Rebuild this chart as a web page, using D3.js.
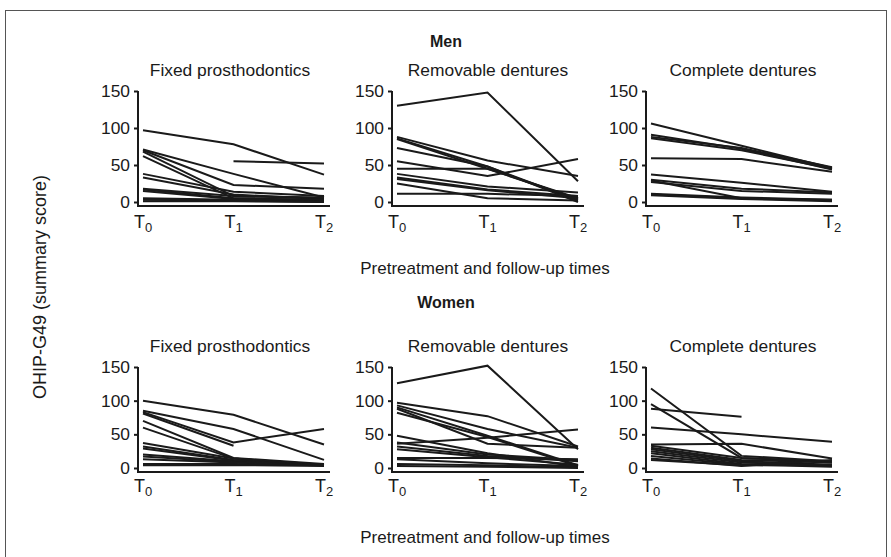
<!DOCTYPE html>
<html>
<head>
<meta charset="utf-8">
<script src="https://cdn.jsdelivr.net/npm/d3@7"></script>
<style>
  body { margin: 0; background: #fff; }
  svg text { font-family: "Liberation Sans", Arial, sans-serif; fill: #1a1a1a; }
</style>
</head>
<body>
<svg id="chart" width="891" height="557"></svg>
<script>
// time points
const times = ["T0", "T1", "T2"];
const timeSubs = ["0", "1", "2"];
const yTicks = [0, 50, 100, 150];
const treatments = ["Fixed prosthodontics", "Removable dentures", "Complete dentures"];
const groups = ["Men", "Women"];

// OHIP-G49 summary scores per patient [T0, T1, T2], null = missing
const menFixed = [
  [97, 78, 37], [null, 55, 52], [71, 38, 6], [70, 23, 18], [68, 8, 5],
  [62, 5, 3], [38, 14, 8], [33, 10, 4], [18, 8, 6], [17, 5, 2],
  [15, 4, 3], [5, 3, 1], [3, 2, 0], [1, 1, 0]
];
const menRemovable = [
  [130, 148, 28], [88, 56, 35], [86, 48, 2], [85, 45, 4], [73, 48, 0],
  [55, 35, 58], [45, 45, 5], [38, 21, 13], [33, 17, 8], [31, 16, 5],
  [25, 5, 2], [11, 11, 8]
];
const menComplete = [
  [106, 76, 46], [91, 72, 44], [88, 73, 47], [86, 70, 45], [59, 58, 41],
  [37, 26, 14], [30, 18, 13], [29, 5, 3], [27, 15, 11], [11, 6, 3],
  [10, 5, 2], [9, 4, 1]
];
const womenFixed = [
  [100, 79, 35], [85, 58, 12], [83, 38, 58], [81, 33, null], [70, 15, 6],
  [60, 14, 5], [37, 14, 4], [32, 12, 5], [29, 11, 5], [20, 10, 4],
  [17, 9, 5], [13, 8, 4], [6, 6, 4], [5, 5, 3], [4, 4, 4]
];
const womenRemovable = [
  [126, 152, 28], [97, 77, 32], [93, 58, 30], [90, 48, 4], [88, 36, 30],
  [36, 45, 57], [82, 46, 3], [48, 22, 2], [38, 20, 12], [32, 18, 10],
  [28, 16, 5], [15, 15, 13], [13, 7, 3], [6, 4, 1], [3, 2, 0]
];
const womenComplete = [
  [118, 18, 10], [95, 15, 8], [88, 76, null], [60, 50, 39], [35, 36, 14],
  [33, 15, 10], [30, 12, 8], [28, 10, 5], [25, 8, 4], [22, 6, 3],
  [18, 5, 2], [14, 3, 12], [12, 4, 5]
];

const panelData = [
  [menFixed, menRemovable, menComplete],
  [womenFixed, womenRemovable, womenComplete]
];

const svg = d3.select("#chart");

// frame
svg.append("rect")
  .attr("x", 5.5).attr("y", 10.5)
  .attr("width", 881).attr("height", 560)
  .attr("fill", "none").attr("stroke", "#555").attr("stroke-width", 1);

const panelLeft = [143, 397, 651];
const subCenter = [230, 488, 743];
const panelWidth = 181;
const rows = [
  { yRange: [202, 91], title: 47, sub: 76, tLabel: 228, axisLab: 274 },
  { yRange: [468, 367], title: 308, sub: 352, tLabel: 492, axisLab: 543 }
];

rows.forEach((row, r) => {
  svg.append("text")
    .attr("x", 446).attr("y", row.title)
    .attr("text-anchor", "middle")
    .attr("font-size", 16).attr("font-weight", "bold")
    .text(groups[r]);

  svg.append("text")
    .attr("x", 485).attr("y", row.axisLab)
    .attr("text-anchor", "middle")
    .attr("font-size", 17)
    .text("Pretreatment and follow-up times");

  const y = d3.scaleLinear().domain([0, 150]).range(row.yRange);

  panelLeft.forEach((left, c) => {
    const x = d3.scalePoint().domain(times).range([left, left + panelWidth]);
    const axisX = left - 5;
    const axisY = y(0) + 4;

    const g = svg.append("g");

    g.append("text")
      .attr("x", subCenter[c]).attr("y", row.sub)
      .attr("text-anchor", "middle")
      .attr("font-size", 17.4)
      .text(treatments[c]);

    // y axis
    const yAxis = g.append("g")
      .attr("transform", `translate(${axisX},0)`)
      .call(d3.axisLeft(y).tickValues(yTicks).tickSize(4).tickPadding(4).tickSizeOuter(0));
    yAxis.select(".domain").attr("stroke", "#1a1a1a").attr("stroke-width", 2)
      .attr("d", `M0,${y(150)}V${axisY}`);
    yAxis.selectAll(".tick line").attr("stroke", "#1a1a1a").attr("stroke-width", 2);
    yAxis.selectAll(".tick text")
      .attr("font-family", "Liberation Sans, Arial, sans-serif")
      .attr("font-size", 17.4).attr("fill", "#1a1a1a");

    // x axis line
    g.append("line")
      .attr("x1", axisX - 1).attr("x2", x("T2") + 6)
      .attr("y1", axisY).attr("y2", axisY)
      .attr("stroke", "#1a1a1a").attr("stroke-width", 2);

    // x labels with subscripts
    times.forEach((t, i) => {
      const tx = g.append("text")
        .attr("x", x(t) - 9).attr("y", row.tLabel)
        .attr("font-size", 18);
      tx.append("tspan").text("T");
      tx.append("tspan").attr("font-size", 13).attr("dy", 4).text(timeSubs[i]);
    });

    const line = d3.line()
      .defined(d => d.v !== null)
      .x(d => x(d.t))
      .y(d => y(d.v));

    g.append("g")
      .selectAll("path")
      .data(panelData[r][c])
      .join("path")
      .attr("d", d => line(d.map((v, i) => ({ t: times[i], v: v }))))
      .attr("fill", "none")
      .attr("stroke", "#1a1a1a")
      .attr("stroke-width", 2);
  });
});

// y axis title
svg.append("text")
  .attr("transform", "translate(46,287) rotate(-90)")
  .attr("text-anchor", "middle")
  .attr("font-size", 18)
  .text("OHIP-G49 (summary score)");
</script>
</body>
</html>
